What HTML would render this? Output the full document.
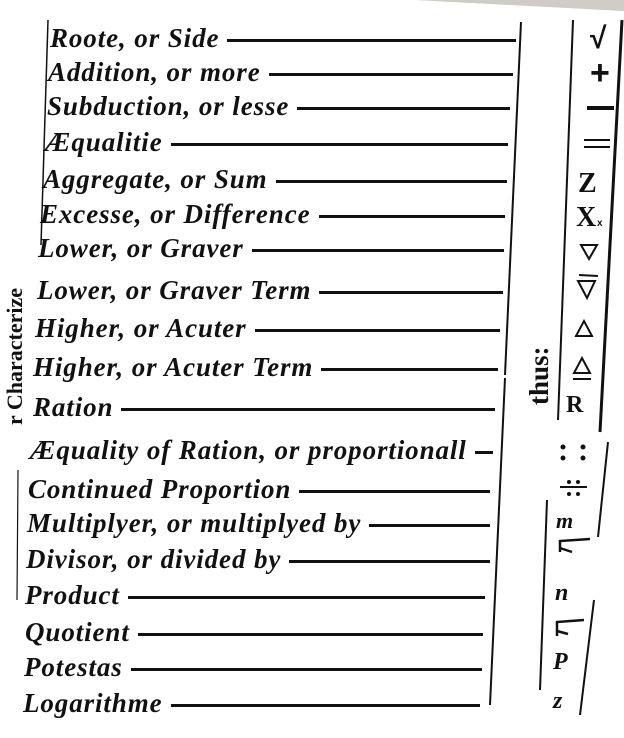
<!DOCTYPE html>
<html><head><meta charset="utf-8"><style>
html,body{margin:0;padding:0;background:#fff;}
body{width:624px;height:738px;position:relative;overflow:hidden;font-family:"Liberation Serif","DejaVu Serif",serif;}
.r{position:absolute;display:flex;align-items:center;height:28px;font-size:27px;font-style:italic;font-weight:bold;color:#111;white-space:nowrap;letter-spacing:0.9px;}
.r .d{flex:1;height:0;border-top:3.5px solid #111;margin-left:8px;margin-top:4px;}
</style></head><body>
<svg width="624" height="738" style="position:absolute;left:0;top:0">
<polygon points="415,0 624,0 624,11" fill="#cfccc6"/>
<line x1="48" y1="20" x2="41" y2="245" stroke="#111" stroke-width="1.5"/>
<line x1="18" y1="470" x2="17" y2="600" stroke="#111" stroke-width="1.2"/>
<line x1="521" y1="22" x2="505" y2="375" stroke="#111" stroke-width="2"/>
<line x1="505" y1="378" x2="490" y2="705" stroke="#111" stroke-width="2"/>
<line x1="573" y1="20" x2="558" y2="420" stroke="#111" stroke-width="2"/>
<line x1="547" y1="500" x2="540" y2="690" stroke="#111" stroke-width="2"/>
<line x1="622" y1="20" x2="600" y2="432" stroke="#111" stroke-width="3"/>
<line x1="608" y1="442" x2="598" y2="537" stroke="#111" stroke-width="2"/>
<line x1="594" y1="600" x2="580" y2="715" stroke="#111" stroke-width="2"/>
<g font-family="Liberation Sans, sans-serif" font-weight="bold" fill="#111">
<text x="590" y="48" font-size="30">√</text>
<text x="590" y="84" font-size="34">+</text>
<line x1="587" y1="108" x2="614" y2="108" stroke="#111" stroke-width="4"/>
<line x1="584" y1="140" x2="610" y2="140" stroke="#111" stroke-width="2"/>
<line x1="584" y1="147" x2="610" y2="147" stroke="#111" stroke-width="2"/>
<text x="578" y="192" font-size="28" font-family="Liberation Serif, serif">Z</text>
<text x="576" y="226" font-size="28" font-family="Liberation Serif, serif">X</text>
<text x="597" y="226" font-size="10">x</text>
<polygon points="581,245 597,245 589,259" fill="none" stroke="#111" stroke-width="2"/>
<line x1="579" y1="275" x2="598" y2="276" stroke="#111" stroke-width="2"/>
<polygon points="578,281 595,281 587,298" fill="none" stroke="#111" stroke-width="2"/>
<polygon points="576,336 592,336 584,321" fill="none" stroke="#111" stroke-width="2"/>
<polygon points="574,373 590,373 582,358" fill="none" stroke="#111" stroke-width="2"/>
<line x1="573" y1="379" x2="591" y2="379" stroke="#111" stroke-width="2"/>
<text x="566" y="412" font-size="24" font-family="Liberation Serif, serif">R</text>
<circle cx="563" cy="447" r="2.5"/><circle cx="583" cy="447" r="2.5"/>
<circle cx="563" cy="458" r="2.5"/><circle cx="583" cy="458" r="2.5"/>
<circle cx="569" cy="482" r="2"/><circle cx="578" cy="482" r="2"/>
<line x1="560" y1="487" x2="587" y2="487" stroke="#111" stroke-width="2"/>
<circle cx="569" cy="494" r="2"/><circle cx="578" cy="494" r="2"/>
<text x="556" y="528" font-size="22" font-family="Liberation Serif, serif" font-style="italic">m</text>
<path d="M560,552 L560,541 L590,539" fill="none" stroke="#111" stroke-width="2.5"/>
<path d="M560,548 L572,552" fill="none" stroke="#111" stroke-width="2.5"/>
<text x="555" y="600" font-size="24" font-family="Liberation Serif, serif" font-style="italic">n</text>
<path d="M557,636 L557,622 L584,620" fill="none" stroke="#111" stroke-width="2.5"/>
<path d="M557,631 L568,634" fill="none" stroke="#111" stroke-width="2.5"/>
<text x="553" y="669" font-size="24" font-family="Liberation Serif, serif" font-style="italic">P</text>
<text x="553" y="708" font-size="24" font-family="Liberation Serif, serif" font-style="italic">z</text>
</g>
<text transform="translate(548,405) rotate(-90)" font-family="Liberation Serif, serif" font-weight="bold" font-size="27" fill="#111">thus:</text>
<text transform="translate(22,425) rotate(-90)" font-family="Liberation Serif, serif" font-weight="bold" font-size="22" fill="#111">r Characterize</text>
</svg>
<div class="r" style="left:50px;top:24px;width:466px">Roote, or Side<span class="d"></span></div>
<div class="r" style="left:48px;top:58px;width:465px">Addition, or more<span class="d"></span></div>
<div class="r" style="left:47px;top:92px;width:463px">Subduction, or lesse<span class="d"></span></div>
<div class="r" style="left:45px;top:128px;width:463px">Æqualitie<span class="d"></span></div>
<div class="r" style="left:43px;top:165px;width:464px">Aggregate, or Sum<span class="d"></span></div>
<div class="r" style="left:40px;top:200px;width:465px">Excesse, or Difference<span class="d"></span></div>
<div class="r" style="left:38px;top:234px;width:466px">Lower, or Graver<span class="d"></span></div>
<div class="r" style="left:37px;top:276px;width:466px">Lower, or Graver Term<span class="d"></span></div>
<div class="r" style="left:35px;top:314px;width:465px">Higher, or Acuter<span class="d"></span></div>
<div class="r" style="left:33px;top:353px;width:465px">Higher, or Acuter Term<span class="d"></span></div>
<div class="r" style="left:33px;top:393px;width:462px">Ration<span class="d"></span></div>
<div class="r" style="left:30px;top:436px;width:463px">Æquality of Ration, or proportionall<span class="d"></span></div>
<div class="r" style="left:28px;top:475px;width:462px">Continued Proportion<span class="d"></span></div>
<div class="r" style="left:27px;top:509px;width:463px">Multiplyer, or multiplyed by<span class="d"></span></div>
<div class="r" style="left:26px;top:545px;width:464px">Divisor, or divided by<span class="d"></span></div>
<div class="r" style="left:25px;top:581px;width:460px">Product<span class="d"></span></div>
<div class="r" style="left:25px;top:618px;width:458px">Quotient<span class="d"></span></div>
<div class="r" style="left:24px;top:653px;width:458px">Potestas<span class="d"></span></div>
<div class="r" style="left:23px;top:689px;width:457px">Logarithme<span class="d"></span></div>
</body></html>
